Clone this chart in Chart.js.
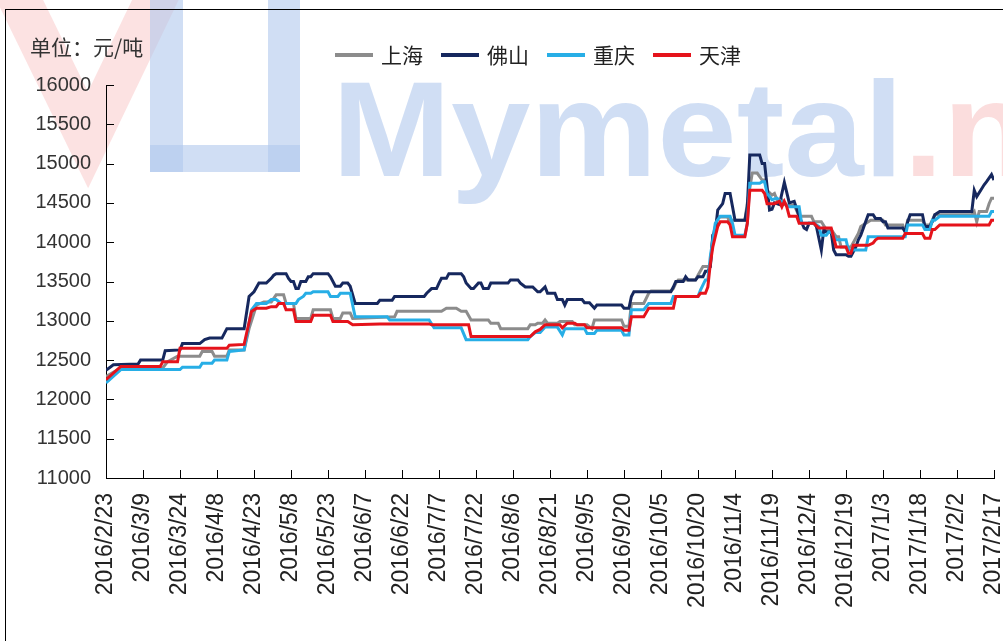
<!DOCTYPE html>
<html>
<head>
<meta charset="utf-8">
<script src="https://cdn.jsdelivr.net/npm/chart.js@4.4.1/dist/chart.umd.min.js"></script>
<style>
    html, body { margin: 0; padding: 0; background: #fff; }
    #wrap { width: 1003px; height: 641px; }
</style>
</head>
<body>
<div id="wrap"><canvas id="myChart" width="1003" height="641"></canvas></div>
<script>
// tick labels, one per 15 days
const tickLabels = [
    '2016/2/23', '2016/3/9', '2016/3/24', '2016/4/8', '2016/4/23', '2016/5/8', '2016/5/23',
    '2016/6/7', '2016/6/22', '2016/7/7', '2016/7/22', '2016/8/6', '2016/8/21', '2016/9/5',
    '2016/9/20', '2016/10/5', '2016/10/20', '2016/11/4', '2016/11/19', '2016/12/4',
    '2016/12/19', '2017/1/3', '2017/1/18', '2017/2/2', '2017/2/17'
];
const seriesNames = ['上海', '佛山', '重庆', '天津'];
const seriesColors = ['#8c8c8c', '#16285e', '#27aee6', '#e5131b'];

// [天数 (从2016/2/23起), 元/吨]
const shanghai = [
    [0,12290],[6,12400],[23,12400],[25,12480],[29,12550],[38,12550],[39,12610],[43,12610],[44,12550],
    [49,12550],[50,12630],[56,12630],[58,12900],[60,13100],[61,13200],[64,13240],[67,13240],[69,13330],
    [72,13330],[73,13220],[76,13220],[77,13030],[83,13030],[84,13140],[91,13140],[92,13030],[95,13030],
    [96,13100],[99,13100],[100,13030],[117,13050],[118,13120],[136,13120],[137,13140],[138,13160],
    [142,13160],[144,13120],[146,13120],[148,13010],[155,13010],[156,12970],[159,12970],[160,12900],
    [171,12900],[172,12950],[174,12950],[175,12970],[177,12970],[178,13010],[179,12970],[183,12970],
    [184,12990],[189,12990],[190,12950],[195,12950],[197,12900],[198,13010],[209,13010],[210,12930],
    [212,12930],[213,13220],[218,13220],[220,13350],[221,13380],[229,13380],[230,13410],[231,13480],
    [232,13520],[239,13520],[240,13580],[242,13690],[245,13690],[246,14070],[248,14320],[252,14320],
    [253,14240],[254,14280],[259,14280],[260,14500],[262,14880],[264,14880],[266,14790],[267,14790],
    [268,14660],[270,14600],[271,14620],[272,14540],[274,14540],[276,14470],[279,14470],[281,14330],
    [286,14330],[287,14260],[290,14260],[292,14160],[294,14160],[296,14070],[297,14070],[298,13940],
    [302,13940],[305,14110],[306,14200],[310,14280],[315,14280],[316,14220],[323,14220],[324,14130],
    [325,14280],[331,14280],[332,14220],[334,14220],[335,14280],[336,14350],[351,14350],[352,14390],
    [353,14260],[354,14390],[357,14390],[358,14490],[359,14560],[360,14560]
];
const foshan = [
    [0,12370],[3,12440],[13,12450],[14,12500],[23,12500],[24,12620],[30,12630],[31,12710],[38,12710],
    [40,12760],[42,12780],[47,12780],[48,12840],[49,12900],[56,12900],[58,13310],[60,13370],[62,13480],
    [65,13480],[67,13540],[68,13580],[69,13600],[73,13600],[74,13540],[75,13500],[76,13500],[77,13410],
    [78,13410],[79,13500],[81,13500],[82,13560],[83,13560],[84,13600],[90,13600],[91,13560],[93,13440],
    [95,13440],[96,13480],[98,13480],[99,13440],[101,13220],[110,13220],[111,13260],[116,13260],
    [117,13310],[129,13310],[130,13350],[132,13410],[134,13410],[135,13480],[136,13540],[138,13540],
    [139,13600],[144,13600],[145,13560],[146,13480],[148,13410],[149,13410],[151,13480],[152,13480],
    [153,13410],[155,13410],[156,13480],[163,13480],[164,13520],[167,13520],[168,13480],[170,13430],
    [173,13430],[175,13370],[176,13370],[178,13430],[179,13350],[182,13350],[183,13270],[185,13270],
    [186,13200],[187,13270],[193,13270],[194,13230],[196,13230],[198,13160],[199,13200],[209,13200],
    [210,13160],[212,13160],[213,13310],[214,13370],[229,13370],[230,13430],[231,13500],[234,13500],
    [235,13560],[236,13520],[239,13520],[240,13560],[242,13560],[243,13630],[244,13630],[245,13690],
    [246,14090],[247,14130],[248,14410],[250,14490],[251,14620],[253,14620],[254,14450],[255,14280],
    [259,14280],[260,14450],[261,15110],[265,15110],[266,15000],[267,15000],[268,14710],[269,14410],
    [270,14420],[271,14500],[273,14480],[275,14760],[277,14500],[279,14520],[281,14330],[283,14180],
    [284,14160],[285,14240],[287,14240],[288,14200],[290,13900],[291,14160],[292,14130],[294,14130],
    [295,13900],[296,13840],[300,13840],[301,13820],[302,13820],[304,13940],[305,14030],[306,14090],
    [309,14350],[311,14350],[312,14300],[314,14300],[315,14260],[316,14260],[317,14180],[323,14180],
    [324,14130],[325,14260],[326,14350],[331,14350],[332,14200],[334,14200],[335,14260],[336,14350],
    [338,14390],[351,14390],[352,14660],[353,14580],[355,14680],[356,14730],[357,14770],[359,14860],
    [360,14790]
];
const chongqing = [
    [0,12210],[6,12380],[30,12380],[31,12410],[38,12410],[39,12460],[43,12460],[44,12500],[49,12500],
    [50,12610],[56,12630],[59,13140],[61,13220],[65,13220],[67,13270],[69,13270],[71,13220],[77,13220],
    [78,13270],[80,13310],[81,13350],[83,13350],[84,13370],[90,13370],[91,13310],[94,13310],[95,13350],
    [99,13350],[101,13050],[114,13050],[115,13010],[131,13010],[133,12910],[144,12910],[146,12760],
    [171,12760],[172,12800],[174,12850],[176,12850],[178,12920],[183,12920],[185,12820],[186,12900],
    [194,12900],[195,12840],[198,12840],[199,12880],[209,12880],[210,12820],[212,12820],[213,13140],
    [218,13140],[220,13220],[229,13220],[230,13310],[240,13310],[241,13390],[243,13520],[244,13520],
    [245,13820],[247,14240],[249,14330],[253,14330],[254,14240],[255,14090],[259,14090],[260,14240],
    [261,14750],[265,14750],[266,14770],[267,14770],[268,14620],[270,14540],[272,14560],[275,14490],
    [277,14450],[281,14450],[282,14240],[287,14240],[289,14200],[290,14090],[292,14090],[293,14130],
    [294,14130],[296,14030],[300,14030],[301,13900],[308,13900],[309,14070],[324,14070],[325,14220],
    [331,14220],[332,14160],[334,14160],[335,14280],[336,14280],[338,14330],[358,14330],[359,14390],
    [360,14390]
];
const tianjin = [
    [0,12250],[6,12420],[22,12420],[23,12480],[29,12480],[30,12650],[49,12650],[50,12690],[56,12700],
    [59,13120],[61,13160],[65,13160],[67,13180],[69,13180],[70,13220],[72,13220],[73,13140],[76,13140],
    [77,12990],[83,12990],[84,13070],[91,13070],[92,12990],[98,12990],[100,12950],[111,12960],
    [131,12960],[132,12950],[147,12950],[148,12800],[172,12800],[174,12860],[176,12890],[178,12950],
    [184,12950],[185,12910],[187,12970],[190,12970],[191,12950],[194,12950],[195,12910],[209,12910],
    [210,12880],[212,12880],[213,13050],[218,13050],[220,13160],[230,13160],[231,13310],[240,13310],
    [241,13350],[243,13350],[244,13430],[245,13730],[246,13940],[248,14200],[249,14260],[252,14260],
    [253,14220],[254,14070],[259,14070],[260,14240],[261,14660],[266,14660],[267,14620],[268,14490],
    [271,14490],[273,14520],[274,14450],[275,14520],[276,14450],[277,14330],[280,14330],[281,14240],
    [287,14240],[289,14180],[294,14180],[296,13940],[300,13940],[301,13860],[302,13860],[303,13960],
    [309,13960],[311,13990],[312,14030],[313,14050],[323,14050],[324,14110],[331,14110],[332,14050],
    [334,14050],[335,14160],[336,14160],[338,14220],[358,14220],[359,14280],[360,14280]
];
const seriesData = [shanghai, foshan, chongqing, tianjin];

const tickFont = "'Liberation Sans', Arial, sans-serif";
const cjkFont = "'Noto Sans CJK SC', sans-serif";

// 背景水印
const watermark = {
    id: 'watermark',
    beforeDraw(chart) {
        const ctx = chart.ctx;
        ctx.save();
        ctx.fillStyle = '#fff';
        ctx.fillRect(0, 0, chart.width, chart.height);
        // 红色 V
        ctx.strokeStyle = 'rgba(244, 160, 160, 0.3)';
        ctx.lineWidth = 42;
        ctx.beginPath();
        ctx.moveTo(10, -20);
        ctx.lineTo(88, 140);
        ctx.lineTo(165, -20);
        ctx.stroke();
        // 蓝色标志
        ctx.fillStyle = 'rgba(176, 200, 236, 0.6)';
        ctx.fillRect(150, 0, 33, 172);
        ctx.fillRect(150, 145, 150, 27);
        ctx.fillRect(268, 0, 32, 172);
        ctx.translate(332, 176);
        ctx.scale(1.05, 1);
        ctx.font = "bold 136px 'Liberation Sans', sans-serif";
        ctx.textBaseline = 'alphabetic';
        ctx.fillText('Mymetal', 0, 0);
        const w = ctx.measureText('Mymetal').width;
        ctx.fillStyle = 'rgba(244, 170, 170, 0.4)';
        ctx.fillText('.net', w, 0);
        ctx.restore();
    }
};

// 边框, 内刻度, 单位, 图例
const decorations = {
    id: 'decorations',
    afterDraw(chart) {
        const ctx = chart.ctx;
        const area = chart.chartArea;
        const xs = chart.scales.x;
        const ys = chart.scales.y;
        ctx.save();
        ctx.strokeStyle = '#000';
        ctx.lineWidth = 1;
        ctx.strokeRect(5.5, 9.5, 1200, 1200);

        ctx.beginPath();
        for (let v = ys.min; v <= ys.max; v += 500) {
            const py = Math.round(ys.getPixelForValue(v)) + 0.5;
            ctx.moveTo(area.left, py);
            ctx.lineTo(area.left + 8, py);
        }
        for (let d = xs.min; d <= xs.max; d += 15) {
            const px = Math.round(xs.getPixelForValue(d)) + 0.5;
            ctx.moveTo(px, area.bottom);
            ctx.lineTo(px, area.bottom - 8);
        }
        ctx.stroke();

        ctx.fillStyle = '#333';
        ctx.font = '21px ' + cjkFont;
        ctx.textBaseline = 'middle';
        ctx.textAlign = 'left';
        ctx.fillText('单位：元/吨', 30, 47);

        ctx.font = '21px ' + cjkFont;
        let x = 335;
        seriesNames.forEach((name, i) => {
            ctx.strokeStyle = seriesColors[i];
            ctx.lineWidth = 4;
            ctx.beginPath();
            ctx.moveTo(x, 55);
            ctx.lineTo(x + 38, 55);
            ctx.stroke();
            ctx.fillStyle = '#222';
            ctx.fillText(name, x + 46, 55);
            x += 46 + ctx.measureText(name).width + 18;
        });
        ctx.restore();
    }
};

const ctx = document.getElementById('myChart').getContext('2d');
new Chart(ctx, {
    type: 'line',
    data: {
        datasets: seriesNames.map((name, i) => ({
            label: name,
            data: seriesData[i].map(p => ({ x: p[0], y: p[1] })),
            borderColor: seriesColors[i],
            backgroundColor: seriesColors[i],
            borderWidth: 3,
            pointRadius: 0,
            tension: 0,
            order: 4 - i
        }))
    },
    options: {
        responsive: false,
        animation: false,
        devicePixelRatio: 1,
        layout: { padding: { top: 85, right: 9, bottom: 0, left: 0 } },
        scales: {
            x: {
                type: 'linear',
                min: 0,
                max: 360,
                grid: { display: false, drawTicks: false },
                border: { display: true, color: '#000', width: 1 },
                ticks: {
                    stepSize: 15,
                    autoSkip: false,
                    maxRotation: 90,
                    minRotation: 90,
                    padding: 15,
                    color: '#222',
                    font: { family: tickFont, size: 23 },
                    callback: (v) => tickLabels[v / 15]
                },
                afterFit(scale) {
                    scale.height = 163;
                    scale.paddingLeft = 0;
                    scale.paddingRight = 0;
                }
            },
            y: {
                min: 11000,
                max: 16000,
                grid: { display: false, drawTicks: false },
                border: { display: true, color: '#000', width: 1 },
                ticks: {
                    stepSize: 500,
                    padding: 15,
                    color: '#333',
                    font: { family: tickFont, size: 20 },
                    callback: (v) => String(v)
                },
                afterFit(scale) {
                    scale.width = 106;
                    scale.paddingTop = 0;
                    scale.paddingBottom = 0;
                }
            }
        },
        plugins: {
            legend: { display: false },
            title: { display: false },
            tooltip: { enabled: false }
        }
    },
    plugins: [watermark, decorations]
});
</script>
</body>
</html>
